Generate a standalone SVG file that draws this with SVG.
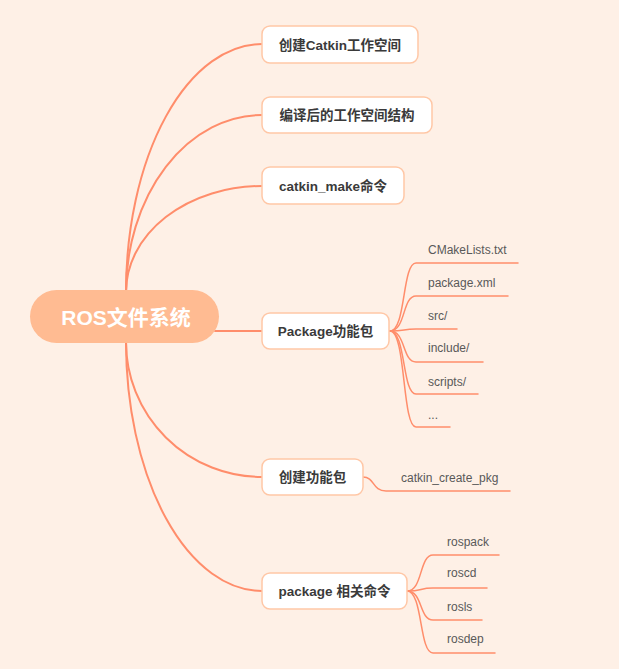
<svg xmlns="http://www.w3.org/2000/svg" width="619" height="669" viewBox="0 0 619 669">
<style>
.bg{fill:#fef0e6}
.conn{fill:none;stroke:#ff8d6b;stroke-width:2;stroke-linecap:round}
.leafc{fill:none;stroke:#ff8d6b;stroke-width:1.5;stroke-linecap:round}
.box{fill:#ffffff;stroke:#ffc7a6;stroke-width:1.5}
.root{fill:#ffbb92}
.rt{font-family:"Liberation Sans","Noto Sans CJK SC",sans-serif;font-weight:bold;font-size:21px;fill:#ffffff}
.nt{font-family:"Liberation Sans","Noto Sans CJK SC",sans-serif;font-weight:bold;font-size:13.5px;fill:#3a3a3a}
.lt{font-family:"Liberation Sans","Noto Sans CJK SC",sans-serif;font-size:12px;fill:#595959}
</style>
<rect class="bg" x="0" y="0" width="619" height="669"/>
<g id="connectors">
<path class="conn" d="M126,292 A136,248 0 0 1 262,44"/>
<path class="conn" d="M126,292 A136,177 0 0 1 262,115"/>
<path class="conn" d="M126,292 A136,106 0 0 1 262,186"/>
<path class="conn" d="M215,331 H262"/>
<path class="conn" d="M126,342 A136,135 0 0 0 262,477"/>
<path class="conn" d="M126,342 A136,249 0 0 0 262,591"/>
<path class="leafc" d="M390,331 C406,331 402,263 416,263 H518"/>
<path class="leafc" d="M390,331 C406,331 402,296 416,296 H508"/>
<path class="leafc" d="M390,331 C406,331 402,329 416,329 H457"/>
<path class="leafc" d="M390,331 C406,331 402,362 416,362 H483"/>
<path class="leafc" d="M390,331 C406,331 402,394 416,394 H478"/>
<path class="leafc" d="M390,331 C406,331 402,427 416,427 H450"/>
<path class="leafc" d="M363,477 C375,477 372,491 386,491 H510"/>
<path class="leafc" d="M407,591 C423,591 419,555 433,555 H499"/>
<path class="leafc" d="M407,591 C423,591 419,588 433,588 H487"/>
<path class="leafc" d="M407,591 C423,591 419,620 433,620 H482"/>
<path class="leafc" d="M407,591 C423,591 419,653 433,653 H495"/>
</g>
<g id="root">
<rect class="root" x="30" y="290" width="189" height="53" rx="26.5"/>
<text class="rt" x="126" y="325" text-anchor="middle">ROS文件系统</text>
</g>
<g id="n1">
<rect class="box" x="262" y="26" width="156" height="37" rx="8"/>
<text class="nt" x="340" y="49.5" text-anchor="middle">创建Catkin工作空间</text>
</g>
<g id="n2">
<rect class="box" x="262" y="97" width="170" height="36" rx="8"/>
<text class="nt" x="347" y="120" text-anchor="middle">编译后的工作空间结构</text>
</g>
<g id="n3">
<rect class="box" x="262" y="167" width="142" height="37" rx="8"/>
<text class="nt" x="333" y="190.5" text-anchor="middle">catkin_make命令</text>
</g>
<g id="n4">
<rect class="box" x="262" y="313" width="127" height="36" rx="8"/>
<text class="nt" x="325.5" y="336" text-anchor="middle">Package功能包</text>
</g>
<g id="n5">
<rect class="box" x="262" y="459" width="101" height="36" rx="8"/>
<text class="nt" x="312.5" y="482" text-anchor="middle">创建功能包</text>
</g>
<g id="n6">
<rect class="box" x="262" y="573" width="145" height="36" rx="8"/>
<text class="nt" x="334.5" y="596" text-anchor="middle">package 相关命令</text>
</g>
<g id="leaves">
<text class="lt" x="428" y="254">CMakeLists.txt</text>
<text class="lt" x="428" y="287">package.xml</text>
<text class="lt" x="428" y="320">src/</text>
<text class="lt" x="428" y="352">include/</text>
<text class="lt" x="428" y="386">scripts/</text>
<text class="lt" x="428" y="419">...</text>
<text class="lt" x="401" y="482">catkin_create_pkg</text>
<text class="lt" x="447" y="546">rospack</text>
<text class="lt" x="447" y="577">roscd</text>
<text class="lt" x="447" y="611">rosls</text>
<text class="lt" x="447" y="643">rosdep</text>
</g>
</svg>
